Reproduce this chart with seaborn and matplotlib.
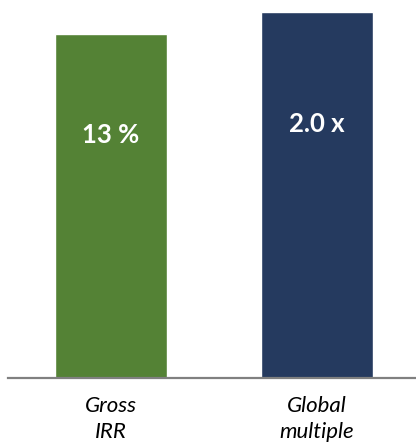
import matplotlib
matplotlib.use("Agg")
import matplotlib.pyplot as plt
import seaborn as sns
import pandas as pd

categories = ["Gross\nIRR", "Global\nmultiple"]
bar_heights = [94, 100]          # relative bar heights
value_labels = ["13 %", "2.0 x"]
colors = ["#548235", "#253A5F"]

sns.set_theme(style="white")
plt.rcParams['font.family'] = ['Lato', 'DejaVu Sans']

df = pd.DataFrame({"cat": categories, "h": bar_heights})

fig = plt.figure(figsize=(4.16, 4.44), dpi=100)
ax = fig.add_axes([8/416, 66/444, 408/416, 366/444])
sns.barplot(data=df, x="cat", y="h", hue="cat", palette=colors,
            width=0.544, saturation=1, legend=False, ax=ax)

ax.set_xlim(-0.5, 1.48)
ax.set_ylim(0, 100)
ax.set_xlabel("")
ax.set_ylabel("")
ax.set_yticks([])
for s in ["top", "right", "left"]:
    ax.spines[s].set_visible(False)
ax.spines["bottom"].set_color("#808080")
ax.spines["bottom"].set_linewidth(1.6)
ax.tick_params(axis="x", length=0, pad=13)
for lab in ax.get_xticklabels():
    lab.set_fontstyle("italic")
    lab.set_fontsize(16)
    lab.set_color("black")
    lab.set_linespacing(1.4)

label_y = [66.5, 69.5]
for i, (t, yy) in enumerate(zip(value_labels, label_y)):
    ax.text(i, yy, t, ha="center", va="center", color="white",
            fontsize=18.5, fontweight="bold")

fig.savefig("out.png", dpi=100)
